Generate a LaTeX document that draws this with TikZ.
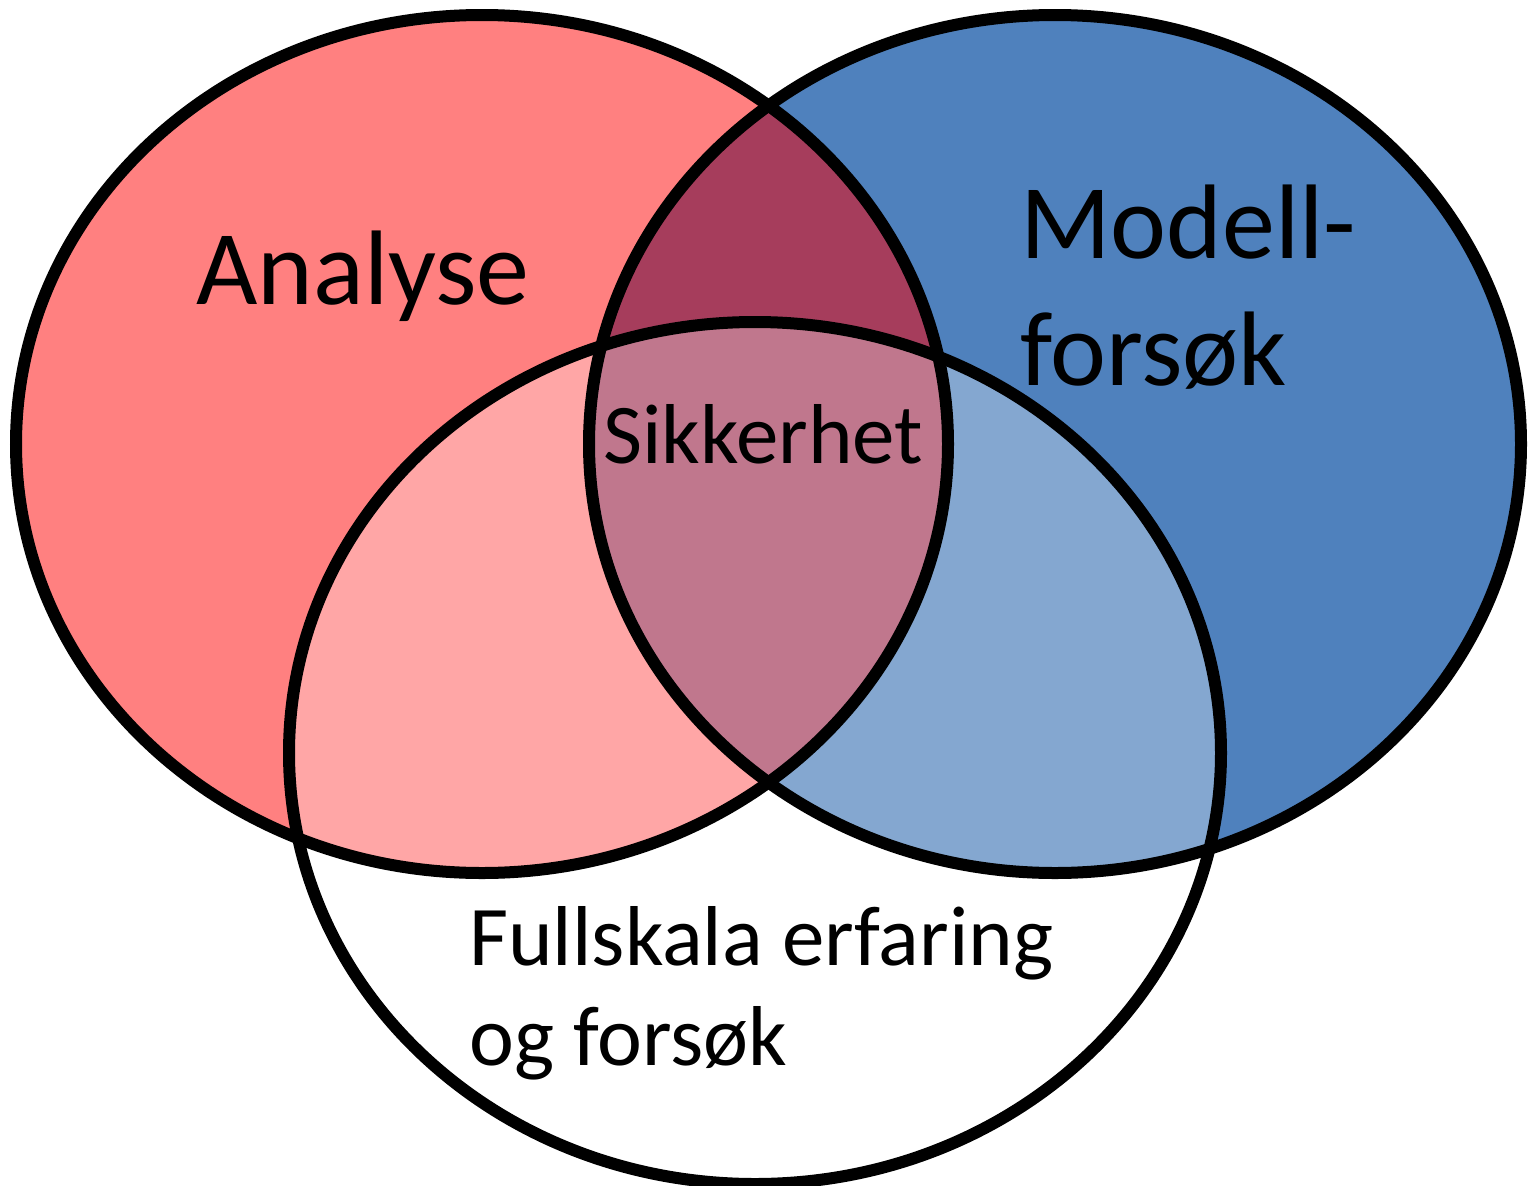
\documentclass[tikz,border=0pt]{standalone}
\usepackage{fontspec}
\setmainfont{Carlito}
\usetikzlibrary{positioning}
\definecolor{analysered}{HTML}{FF8080}
\definecolor{modellblue}{HTML}{4F81BD}
\definecolor{overlapred}{HTML}{A63D5C}

\begin{document}
\begin{tikzpicture}[x=1pt, y=-1pt,
    ring/.style={draw=black, line width=12pt},
    bigtext/.style={anchor=base west, inner sep=0pt, font=\fontsize{106}{130}\selectfont},
    smalltext/.style={anchor=base west, inner sep=0pt, font=\fontsize{85}{100}\selectfont},
    rad/.style={x radius=466pt, y radius=429pt}]
  \useasboundingbox (0,0) rectangle (1529,1186);

  % CIRCLE CENTRES
  \coordinate (analyse) at (482,444);
  \coordinate (modell) at (1055,444);
  \coordinate (fullskala) at (755,753);

  % FILLS
  \fill[analysered] (analyse) ellipse [rad];
  \fill[modellblue] (modell) ellipse [rad];
  \begin{scope}
    \clip (analyse) ellipse [rad];
    \fill[overlapred] (modell) ellipse [rad];
  \end{scope}
  \fill[white, fill opacity=0.3] (fullskala) ellipse [rad, y radius=431pt];

  % OUTLINES
  \draw[ring] (analyse) ellipse [rad];
  \draw[ring] (modell) ellipse [rad];
  \draw[ring] (fullskala) ellipse [rad, y radius=431pt];

  % LABELS
  \node[bigtext] (analysetxt) at (196,304) {Analyse};
  \node[bigtext] (modelltxt) at (1020,258) {Modell-};
  \node[bigtext] (forsoktxt) at (1020,385) {forsøk};
  \node[smalltext] (sikkerhettxt) at (603,463) {Sikkerhet};
  \node[smalltext] (fullskalatxt) at (469,965) {Fullskala erfaring};
  \node[smalltext] (ogforsoktxt) at (469,1065) {og forsøk};

\end{tikzpicture}
\end{document}
